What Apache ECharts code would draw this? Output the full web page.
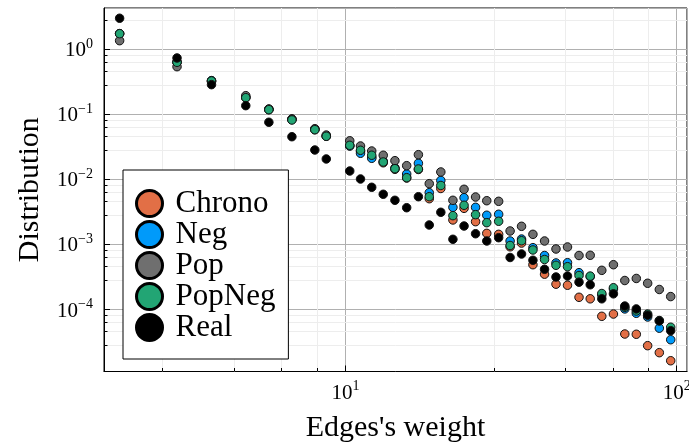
<!DOCTYPE html>
<html>
<head>
<meta charset="utf-8">
<script src="https://cdn.jsdelivr.net/npm/echarts@6/dist/echarts.min.js"></script>
<style>html,body{margin:0;padding:0;background:#fff;}#c{width:689px;height:445px;}</style>
</head>
<body>
<div id="c"></div>
<script>
// Edge weight (x) positions of the log-binned points
const weights = [2.08, 3.10, 3.94, 5.0, 5.87, 6.89, 8.08, 8.75, 10.3, 11.1, 12.0, 13.0, 14.1, 15.3, 16.6, 17.9, 19.4, 21.1, 22.8, 24.7, 26.7, 29.0, 31.4, 34.0, 36.8, 39.9, 43.2, 46.8, 50.7, 54.8, 59.4, 64.4, 69.7, 75.5, 81.7, 88.6, 95.9];

const chrono = [1.73, 0.63, 0.325, 0.18, 0.118, 0.085, 0.058, 0.046, 0.033, 0.027, 0.022, 0.018, 0.0143, 0.0105, 0.0142, 0.00505, 0.00725, 0.00238, 0.00359, 0.00224, 0.00148, 0.00143, 0.00092, 0.00105, 0.000488, 0.000349, 0.000245, 0.000236, 0.000154, 0.000146, 0.0000786, 0.0000852, 0.000042, 0.0000416, 0.0000278, 0.0000217, 0.0000163];
const neg = [1.74, 0.635, 0.33, 0.183, 0.119, 0.083, 0.059, 0.0465, 0.0325, 0.0252, 0.0211, 0.019, 0.015, 0.01211, 0.01768, 0.00625, 0.00962, 0.00372, 0.00523, 0.00372, 0.00281, 0.00291, 0.00113, 0.00121, 0.000892, 0.000676, 0.000519, 0.000524, 0.000368, 0.00032, 0.000167, 0.000206, 0.000102, 0.0000874, 0.0000767, 0.0000516, 0.0000343];
const pop = [1.356, 0.54, 0.318, 0.1935, 0.121, 0.084, 0.06, 0.048, 0.0392, 0.0326, 0.0273, 0.0235, 0.01939, 0.01624, 0.02397, 0.00859, 0.013, 0.00477, 0.00704, 0.00536, 0.0047, 0.0046, 0.00161, 0.0019, 0.00143, 0.00113, 0.000851, 0.000914, 0.000676, 0.000681, 0.0004, 0.000488, 0.000279, 0.0003, 0.000253, 0.000203, 0.000158];
const popNeg = [1.737, 0.631, 0.326, 0.1803, 0.1179, 0.0819, 0.0581, 0.046, 0.0334, 0.028, 0.0235, 0.01851, 0.0146, 0.01062, 0.01445, 0.00542, 0.00806, 0.00277, 0.004, 0.00287, 0.00216, 0.00227, 0.000964, 0.00114, 0.000822, 0.000587, 0.000478, 0.000455, 0.000333, 0.000326, 0.000176, 0.000216, 0.000108, 0.0000948, 0.0000852, 0.0000677, 0.0000534];
const real = [3.0, 0.735, 0.286, 0.136, 0.0755, 0.0453, 0.0283, 0.0206, 0.01346, 0.01014, 0.00756, 0.0059, 0.00477, 0.00367, 0.00542, 0.00199, 0.00312, 0.0012, 0.00192, 0.00146, 0.00113, 0.00127, 0.00063, 0.000713, 0.000571, 0.000415, 0.000316, 0.000327, 0.000263, 0.00024, 0.000146, 0.000174, 0.000113, 0.000102, 0.0000817, 0.0000666, 0.0000472];

const seriesNames = ['Chrono', 'Neg', 'Pop', 'PopNeg', 'Real'];
const seriesValues = [chrono, neg, pop, popNeg, real];
const seriesColors = ['#e26f46', '#009afa', '#6f6f6f', '#22a574', '#000000'];

// axis extents and minor tick values
const xMin = 1.866, xMax = 107.4;
const yMin = 1.114e-5, yMax = 4.31;
const xMinorTicks = [2.8, 4.6, 6.4, 8.2, 28, 46, 64, 82];
const yMinorTicks = [2.8e-5, 4.6e-5, 6.4e-5, 8.2e-5, 2.8e-4, 4.6e-4, 6.4e-4, 8.2e-4, 2.8e-3, 4.6e-3, 6.4e-3, 8.2e-3, 0.028, 0.046, 0.064, 0.082, 0.28, 0.46, 0.64, 0.82, 2.8];

const FONT = 'Liberation Serif';

function powLabel(v) {
  const e = Math.round(Math.log10(v));
  return '{b|10}{s|' + (e < 0 ? '\u2212' + (-e) : String(e)) + '}';
}
const richTick = {
  b: { fontFamily: FONT, fontSize: 21, color: '#000', verticalAlign: 'bottom' },
  s: { fontFamily: FONT, fontSize: 14, color: '#000', verticalAlign: 'bottom', padding: [0, 0, 10, 0] }
};

const chart = echarts.init(document.getElementById('c'), null, { renderer: 'canvas' });

const scatterSeries = seriesNames.map((name, i) => ({
  name: name,
  type: 'scatter',
  symbol: 'circle',
  symbolSize: 8.5,
  z: 3,
  itemStyle: { color: seriesColors[i], borderColor: '#111', borderWidth: 1, opacity: 1 },
  emphasis: { disabled: true },
  data: weights.map((w, k) => [w, seriesValues[i][k]])
}));

const minorX = {
  type: 'custom', silent: true, z: 1,
  data: xMinorTicks.map(v => [v, 1]),
  renderItem: function (params, api) {
    const cs = params.coordSys;
    const p = api.coord([api.value(0), 1]);
    const x = Math.round(p[0]) + 0.5;
    return { type: 'group', children: [
      { type: 'line', shape: { x1: x, y1: cs.y, x2: x, y2: cs.y + cs.height }, style: { stroke: '#ededed', lineWidth: 1 } },
      { type: 'line', z2: 10, shape: { x1: x, y1: cs.y + cs.height, x2: x, y2: cs.y + cs.height - 3.5 }, style: { stroke: '#000', lineWidth: 1 } }
    ]};
  }
};
const minorY = {
  type: 'custom', silent: true, z: 1,
  data: yMinorTicks.map(v => [10, v]),
  renderItem: function (params, api) {
    const cs = params.coordSys;
    const p = api.coord([10, api.value(1)]);
    const y = Math.round(p[1]) + 0.5;
    return { type: 'group', children: [
      { type: 'line', shape: { x1: cs.x, y1: y, x2: cs.x + cs.width, y2: y }, style: { stroke: '#ededed', lineWidth: 1 } },
      { type: 'line', z2: 10, shape: { x1: cs.x, y1: y, x2: cs.x + 3.5, y2: y }, style: { stroke: '#000', lineWidth: 1 } }
    ]};
  }
};

chart.setOption({
  animation: false,
  backgroundColor: '#fff',
  grid: { left: 104, right: 2, top: 8, bottom: 73.5, containLabel: false, outerBoundsMode: 'none', show: true, borderColor: '#000', borderWidth: 1, backgroundColor: 'transparent' },
  xAxis: {
    type: 'log', logBase: 10, min: xMin, max: xMax,
    name: "Edges's weight", nameLocation: 'middle', nameGap: 42,
    nameTextStyle: { fontFamily: FONT, fontSize: 30, color: '#000' },
    axisLine: { show: true, lineStyle: { color: '#000', width: 1 } },
    axisTick: { show: true, inside: true, length: 6, lineStyle: { color: '#000' } },
    axisLabel: { showMinLabel: false, showMaxLabel: false, margin: 8, formatter: powLabel, rich: richTick },
    splitLine: { show: true, lineStyle: { color: '#b0b0b0', width: 1 } },
    minorTick: { show: false }
  },
  yAxis: {
    type: 'log', logBase: 10, min: yMin, max: yMax,
    name: 'Distribution', nameLocation: 'middle', nameGap: 59, nameRotate: 90,
    nameTextStyle: { fontFamily: FONT, fontSize: 30, color: '#000' },
    axisLine: { show: true, lineStyle: { color: '#000', width: 1 } },
    axisTick: { show: true, inside: true, length: 6, lineStyle: { color: '#000' } },
    axisLabel: { showMinLabel: false, showMaxLabel: false, margin: 11, formatter: powLabel, rich: richTick },
    splitLine: { show: true, lineStyle: { color: '#b0b0b0', width: 1 } },
    minorTick: { show: false }
  },
  legend: {
    data: seriesNames, orient: 'vertical', left: 123, top: 170,
    backgroundColor: '#fff', borderColor: '#000', borderWidth: 1,
    padding: [18, 13, 16, 12], itemWidth: 26, itemHeight: 26, itemGap: 0,
    icon: 'circle',
    itemStyle: { borderColor: '#000', borderWidth: 3 },
    textStyle: { fontFamily: FONT, fontSize: 31, color: '#000', lineHeight: 26, padding: [0, 0, 0, 8] },
    selectedMode: false
  },
  series: [minorX, minorY].concat(scatterSeries)
});
</script>
</body>
</html>
